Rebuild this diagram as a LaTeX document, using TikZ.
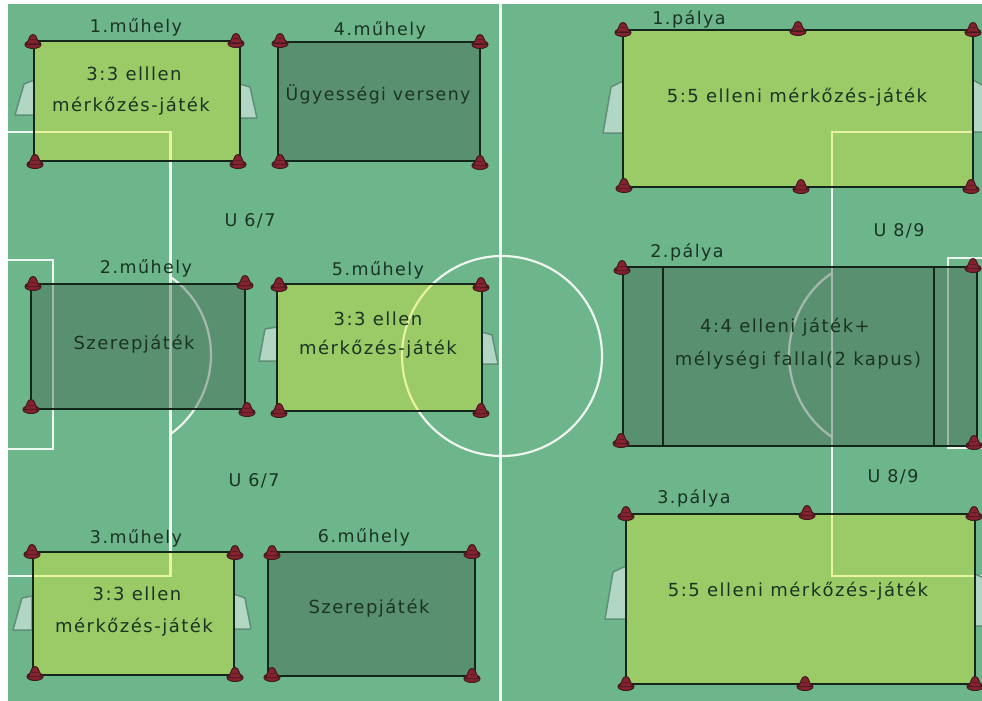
\documentclass[tikz,border=0pt]{standalone}
\usepackage{fontspec}
\setmainfont[LetterSpace=8.3]{DejaVu Sans}
\definecolor{field}{HTML}{6DB58A}
\definecolor{lightfill}{HTML}{E2EC30}
\definecolor{darkfill}{HTML}{3D5D49}
\definecolor{linedark}{HTML}{14261A}
\definecolor{txt}{HTML}{1B3323}
\definecolor{conered}{HTML}{84222F}
\definecolor{conedark}{HTML}{3F1A1E}
\definecolor{goalfill}{HTML}{B2D6C4}
\definecolor{goaledge}{HTML}{5F8F78}
\tikzset{
  pitchline/.style={draw=white,line width=2.2pt,opacity=.88},
  lightrect/.style={fill=lightfill,fill opacity=.4,draw=linedark,draw opacity=1,line width=2.8pt},
  darkrect/.style={fill=darkfill,fill opacity=.4,draw=linedark,draw opacity=1,line width=2.8pt},
  innerline/.style={draw=linedark,line width=2.8pt},
  goalshape/.style={fill=goalfill,draw=goaledge,line width=1.5pt,line join=round},
  lab/.style={text=txt,font=\fontsize{17.5}{20}\selectfont,inner sep=0pt,anchor=center},
  body/.style={lab,font=\fontsize{18}{21}\selectfont},
  tightbody/.style={lab,font=\fontsize{17.3}{20}\selectfont},
  conebody/.style={fill=conered,draw=conedark,line width=1pt,line join=round}
}
\newcommand{\conemark}[2]{%
  \begin{scope}[shift={(#1,#2)}]
    \fill[conered,draw=conedark,line width=1pt] (0,2.5) ellipse [x radius=8,y radius=4];
    \draw[conebody] (-6.5,2.5) -- (-3,-5.5) .. controls (-2,-8) and (2,-8) .. (3,-5.5) -- (6.5,2.5) -- cycle;
    \draw[conedark!60!conered,line width=1pt] (-3,-2) -- (3,-2);
    \draw[conedark!60!conered,line width=1pt] (-4,2) -- (4,2);
  \end{scope}}
\begin{document}
\begin{tikzpicture}[x=1pt,y=-1pt]
\useasboundingbox (0,0) rectangle (982,701);
\fill[white] (0,0) rectangle (982,701);
\fill[field] (8,4) rectangle (982,701);
% markings
\draw[pitchline] (500.5,4) -- (500.5,701);
\draw[pitchline] (502,356) circle [radius=100];
\draw[pitchline] (8,132) -- (170.5,132) -- (170.5,576) -- (8,576);
\draw[pitchline] (8,260) -- (53,260) -- (53,449) -- (8,449);
\draw[pitchline] (170.5,277) .. controls (197,295) and (211,325) .. (211,355) .. controls (211,385) and (197,415) .. (170.5,434);
\draw[pitchline] (982,132) -- (832,132) -- (832,576) -- (982,576);
\draw[pitchline] (982,258) -- (948,258) -- (948,448) -- (982,448);
\draw[pitchline] (832,273) .. controls (806,290) and (789,322) .. (789,355) .. controls (789,388) and (806,420) .. (832,437);
% goals
\draw[goalshape] (34,80) -- (24,84) -- (15,115) -- (34,115) -- cycle;
\draw[goalshape] (240,84) -- (250,87) -- (257,118) -- (240,118) -- cycle;
\draw[goalshape] (277,327) -- (265,329) -- (259,361) -- (277,361) -- cycle;
\draw[goalshape] (482,332) -- (492,335) -- (498,364) -- (482,364) -- cycle;
\draw[goalshape] (32,596) -- (22,598) -- (13,630) -- (32,630) -- cycle;
\draw[goalshape] (234,594) -- (245,598) -- (251,629) -- (234,629) -- cycle;
\draw[goalshape] (623,81) -- (611,87) -- (603,133) -- (623,133) -- cycle;
\draw[goalshape] (973,80) -- (984,86) -- (984,132) -- (973,132) -- cycle;
\draw[goalshape] (626,566) -- (613,572) -- (605,619) -- (626,619) -- cycle;
\draw[goalshape] (975,574) -- (984,578) -- (984,626) -- (975,626) -- cycle;
% zones
\draw[lightrect] (34,41) rectangle (240,161);
\draw[darkrect] (278,42) rectangle (480,161);
\draw[darkrect] (31,284) rectangle (245,409);
\draw[lightrect] (277,284) rectangle (482,411);
\draw[lightrect] (33,552) rectangle (234,675);
\draw[darkrect] (268,552) rectangle (475,676);
\draw[lightrect] (623,30) rectangle (973,187);
\draw[darkrect] (623,267) rectangle (977,446);
\draw[innerline] (663,267) -- (663,447);
\draw[innerline] (934,267) -- (934,447);
\draw[lightrect] (626,514) rectangle (975,684);
% cones
\foreach \cx/\cy in {33/42,236/41,35/162,238/162,
                280/41,480/42,280/162,480/163,
                33/284,245/283,31/407,247/410,
                279/285,481/285,279/411,481/411,
                32/552,235/553,35/674,235/675,
                272/553,472/552,272/675,472/676,
                623/30,798/29,973/30,624/186,801/187,971/187,
                622/268,973/266,621/441,974/443,
                626/514,807/513,974/514,626/684,805/684,975/684}
  {\conemark{\cx}{\cy}}
% labels
\node[lab] (m1) at (136,27) {1.műhely};
\node[lab] (m4) at (380,30) {4.műhely};
\node[lab] (m2) at (146,268) {2.műhely};
\node[lab] (m5) at (378,270) {5.műhely};
\node[lab] (m3) at (136,538) {3.műhely};
\node[lab] (m6) at (364,537) {6.műhely};
\node[lab] (p1) at (689,19) {1.pálya};
\node[lab] (p2) at (687,252) {2.pálya};
\node[lab] (p3) at (694,498) {3.pálya};
\node[lab] (u1) at (250,221) {U 6/7};
\node[lab] (u2) at (254,481) {U 6/7};
\node[lab] (u3) at (899,231) {U 8/9};
\node[lab] (u4) at (893,477) {U 8/9};
% texts
\node[body] (t1a) at (134,74) {3:3 elllen};
\node[body] (t1b) at (131,106) {mérkőzés-játék};
\node[tightbody] (t4) at (378,94) {Ügyességi verseny};
\node[body] (t2) at (134,344) {Szerepjáték};
\node[body] (t5a) at (378,319) {3:3 ellen};
\node[body] (t5b) at (378,349) {mérkőzés-játék};
\node[body] (t3a) at (137,594) {3:3 ellen};
\node[body] (t3b) at (134,627) {mérkőzés-játék};
\node[body] (t6) at (369,608) {Szerepjáték};
\node[body] (tp1) at (797,97) {5:5 elleni mérkőzés-játék};
\node[body] (tp2a) at (785,327) {4:4 elleni játék+};
\node[body] (tp2b) at (798,360) {mélységi fallal(2 kapus)};
\node[body] (tp3) at (798,591) {5:5 elleni mérkőzés-játék};
\end{tikzpicture}
\end{document}
